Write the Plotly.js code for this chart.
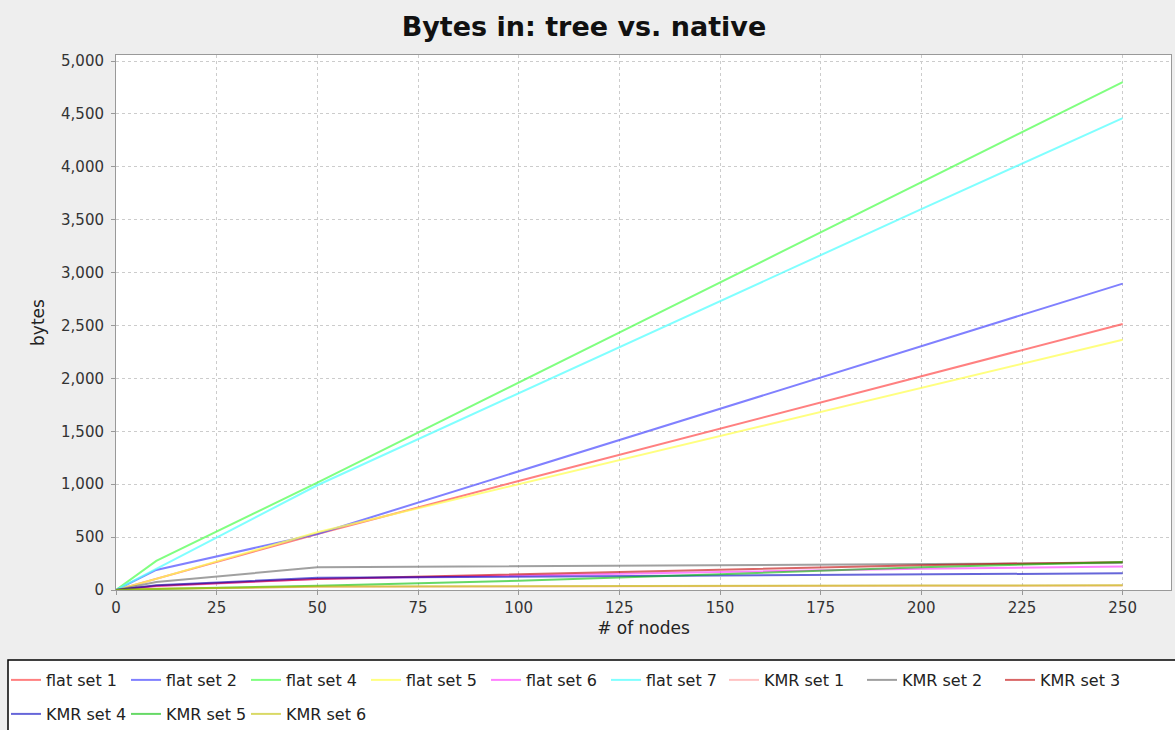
<!DOCTYPE html>
<html>
<head>
<meta charset="utf-8">
<script src="https://cdn.plot.ly/plotly-3.0.1.min.js"></script>
<style>html,body{margin:0;padding:0;background:#eeeeee;}#chart{width:1175px;height:730px;}</style>
</head>
<body>
<div id="chart"></div>
<script>
const nodes = [0, 10, 50, 100, 150, 200, 250];

const flatSet1 = [0, 105, 530, 1030, 1525, 2020, 2515];
const flatSet2 = [0, 190, 530, 1120, 1710, 2300, 2896];
const flatSet4 = [0, 275, 1015, 1960, 2905, 3850, 4800];
const flatSet5 = [0, 105, 545, 1000, 1455, 1910, 2365];
const flatSet6 = [0, 35, 105, 140, 170, 200, 222];
const flatSet7 = [0, 200, 990, 1860, 2730, 3600, 4460];
const kmrSet1 = [0, 10, 30, 35, 38, 40, 42];
const kmrSet2 = [0, 75, 215, 225, 235, 245, 255];
const kmrSet3 = [0, 40, 105, 150, 190, 235, 265];
const kmrSet4 = [0, 45, 115, 125, 140, 150, 158];
const kmrSet5 = [0, 10, 40, 88, 150, 215, 265];
const kmrSet6 = [0, 12, 32, 37, 40, 42, 44];

const seriesNames = ["flat set 1","flat set 2","flat set 4","flat set 5","flat set 6","flat set 7",
                     "KMR set 1","KMR set 2","KMR set 3","KMR set 4","KMR set 5","KMR set 6"];
const seriesValues = [flatSet1, flatSet2, flatSet4, flatSet5, flatSet6, flatSet7,
                      kmrSet1, kmrSet2, kmrSet3, kmrSet4, kmrSet5, kmrSet6];
const seriesColors = ["rgba(255,85,85,0.75)","rgba(85,85,255,0.75)","rgba(85,255,85,0.75)","rgba(255,255,85,0.75)",
                      "rgba(255,85,255,0.75)","rgba(85,255,255,0.75)","rgba(255,175,175,0.75)","rgba(128,128,128,0.75)",
                      "rgba(192,0,0,0.6)","rgba(0,0,192,0.6)","rgba(0,192,0,0.6)","rgba(192,192,0,0.6)"];
const legendGroups = ["legend","legend","legend","legend","legend","legend",
                      "legend2","legend2","legend2","legend3","legend3","legend3"];

const traces = seriesNames.map((name, i) => ({
  type: 'scatter', mode: 'lines', name: name,
  x: nodes, y: seriesValues[i], legend: legendGroups[i],
  line: {color: seriesColors[i], width: 2}
}));

const font = "DejaVu Sans, Verdana, sans-serif";
const W = 1175, H = 730, ml = 116, mr = 4, mt = 55, mb = 140;
const pw = W - ml - mr, ph = H - mt - mb;
const px = v => (v - ml) / pw;
const py = v => (H - mb - v) / ph;

const legendBase = {orientation: 'h', xanchor: 'left', yanchor: 'top',
  bgcolor: 'rgba(0,0,0,0)', borderwidth: 0, font: {family: font, size: 16, color: '#222222'},
  itemwidth: 30, entrywidthmode: 'pixels'};

const axisBase = {showgrid: true, gridcolor: '#cccccc', griddash: '3px,3px', automargin: false,
  zeroline: false, showline: true, linecolor: '#999999', mirror: true, ticks: 'outside', ticklen: 4,
  tickcolor: '#999999', tickfont: {family: font, size: 15, color: '#333333'}};

const layout = {
  width: W, height: H,
  paper_bgcolor: '#eeeeee', plot_bgcolor: '#ffffff',
  margin: {l: ml, r: mr, t: mt, b: mb, pad: 0, autoexpand: false},
  font: {family: font, color: '#333333', size: 15},
  title: {text: '<b>Bytes in: tree vs. native</b>', x: 0.497, xref: 'container', y: 0.963, yanchor: 'middle',
          font: {family: font, size: 27, color: '#111111'}},
  xaxis: Object.assign({}, axisBase, {range: [0, 262], dtick: 25, tick0: 0,
          title: {text: '# of nodes', font: {family: font, size: 17, color: '#222222'}, standoff: 6}}),
  yaxis: Object.assign({}, axisBase, {range: [0, 5057], dtick: 500, tick0: 0, tickformat: ',d', ticklabelstandoff: 4,
          title: {text: 'bytes', font: {family: font, size: 17, color: '#222222'}, standoff: 12}}),
  showlegend: true,
  legend: Object.assign({}, legendBase, {x: px(6), y: py(663), entrywidth: 75}),
  legend2: Object.assign({}, legendBase, {x: px(724), y: py(663), entrywidth: 93}),
  legend3: Object.assign({}, legendBase, {x: px(6), y: py(697), entrywidth: 75}),
  shapes: [{type: 'rect', xref: 'paper', yref: 'paper', x0: px(8), x1: px(1176), y0: py(660), y1: py(732),
            line: {color: '#000000', width: 1.5}, fillcolor: '#ffffff', layer: 'below'}]
};

Plotly.newPlot('chart', traces, layout, {displayModeBar: false, staticPlot: true});
</script>
</body>
</html>
